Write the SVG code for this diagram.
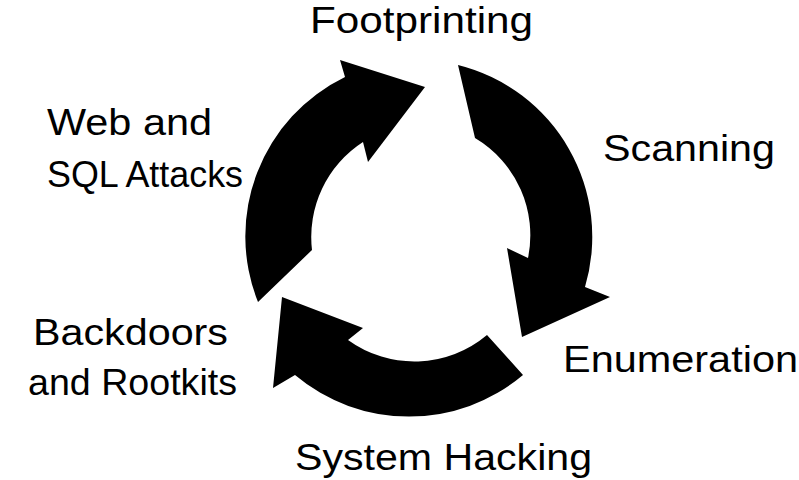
<svg xmlns="http://www.w3.org/2000/svg" width="799" height="480" viewBox="0 0 799 480">
<style>
.lbl{font-family:"Liberation Sans",Arial,sans-serif;font-size:36px;fill:#000}
.arr{fill:#000}
</style>
<rect width="799" height="480" fill="#fff"/>
<g id="connectors">
<path id="arrow-web-to-footprinting" class="arr" d="M258,302 A177,177 0 0 1 345,77 L340,60 L425,87 L368,162 L363,142 A113,113 0 0 0 312,250 Z"/>
<path id="arrow-footprinting-to-enumeration" class="arr" d="M458,65 A177,177 0 0 1 585,287 L610,297 L522,337 L507,248 L528,258 A113,113 0 0 0 475,138 Z"/>
<path id="arrow-enumeration-to-backdoors" class="arr" d="M523,375 A177,177 0 0 1 295,375 L273,388 L282,297 L363,328 L348,340 A113,113 0 0 0 487,335 Z"/>
</g>
<g id="footprinting"><text class="lbl" x="310" y="33" textLength="223" lengthAdjust="spacingAndGlyphs">Footprinting</text></g>
<g id="scanning"><text class="lbl" x="603" y="161" textLength="172" lengthAdjust="spacingAndGlyphs">Scanning</text></g>
<g id="enumeration"><text class="lbl" x="563" y="372" textLength="235" lengthAdjust="spacingAndGlyphs">Enumeration</text></g>
<g id="system-hacking"><text class="lbl" x="295" y="470" textLength="297" lengthAdjust="spacingAndGlyphs">System Hacking</text></g>
<g id="backdoors-rootkits">
<text class="lbl" x="33" y="345" textLength="195" lengthAdjust="spacingAndGlyphs">Backdoors</text>
<text class="lbl" x="28" y="395" textLength="209" lengthAdjust="spacingAndGlyphs">and Rootkits</text>
</g>
<g id="web-sql">
<text class="lbl" x="47" y="135" textLength="165" lengthAdjust="spacingAndGlyphs">Web and</text>
<text class="lbl" x="47" y="187" textLength="196" lengthAdjust="spacingAndGlyphs">SQL Attacks</text>
</g>
</svg>
